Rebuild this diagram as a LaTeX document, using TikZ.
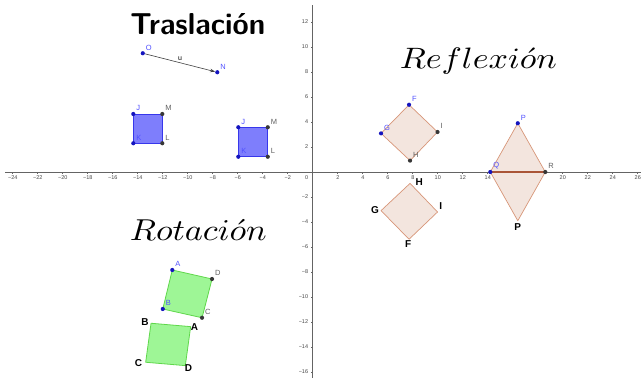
\documentclass[tikz,border=0pt]{standalone}
\usepackage{fontspec}
\newfontfamily\labfont{Liberation Sans}
\usetikzlibrary{calc,arrows.meta}
\definecolor{axisgray}{RGB}{100,100,100}
\definecolor{ticktext}{RGB}{70,70,70}
\definecolor{ptblue}{RGB}{20,20,190}
\definecolor{ptdark}{RGB}{55,55,55}
\definecolor{lblblue}{RGB}{80,80,255}
\definecolor{lblgray}{RGB}{95,95,95}
\definecolor{fillblue}{RGB}{126,126,252}
\definecolor{edgeblue}{RGB}{55,55,235}
\definecolor{fillsal}{RGB}{243,229,222}
\definecolor{edgesal}{RGB}{215,150,120}
\definecolor{segsal}{RGB}{170,85,55}
\definecolor{fillgreen}{RGB}{158,246,150}
\definecolor{edgegreen}{RGB}{95,215,75}
\tikzset{
  axisline/.style={draw=axisgray, line width=0.6pt},
  ticklbl/.style={font=\labfont\fontsize{5.5}{6}\selectfont, text=ticktext, inner sep=0pt},
  ptb/.style={circle, fill=ptblue, inner sep=0pt, minimum size=4.2pt},
  ptd/.style={circle, fill=ptdark, inner sep=0pt, minimum size=4.2pt},
  lblb/.style={font=\labfont\fontsize{7.5}{8}\selectfont, text=lblblue, inner sep=0pt, label distance=1.8pt},
  lbld/.style={font=\labfont\fontsize{7.5}{8}\selectfont, text=lblgray, inner sep=0pt, label distance=1.8pt},
  biglbl/.style={font=\labfont\bfseries\fontsize{10}{10}\selectfont, text=black, inner sep=0pt},
  sqblue/.style={fill=fillblue, draw=edgeblue, line width=0.8pt, line join=round},
  sqsal/.style={fill=fillsal, draw=edgesal, line width=0.7pt, line join=round},
  sqgreen/.style={fill=fillgreen, draw=edgegreen, line width=0.8pt, line join=round},
  vecline/.style={draw=black!75, line width=0.6pt, -{Stealth[length=5pt,width=3.5pt]}},
  title/.style={anchor=base, inner sep=0pt}
}
\begin{document}
\begin{tikzpicture}[x=12.5pt,y=12.5pt]
\useasboundingbox (-25.024,-16.48) rectangle (26.256,13.76);

% axes
\draw[axisline] (-24.62,0) -- (26.256,0);
\draw[axisline] (0,-16.48) -- (0,13.36);
\foreach \x in {2,4,...,24} {
  \draw[axisline] (-\x,0) -- (-\x,-0.16);
  \node[ticklbl] (xn\x) at (-\x,-0.44) {−\x};
}
\foreach \x in {2,4,...,26} {
  \draw[axisline] (\x,0) -- (\x,-0.16);
  \node[ticklbl] (xp\x) at (\x,-0.44) {\x};
}
\foreach \y in {2,4,...,12} {
  \draw[axisline] (0,\y) -- (-0.16,\y);
  \node[ticklbl, anchor=east] (yp\y) at (-0.36,\y) {\y};
}
\foreach \y in {2,4,...,16} {
  \draw[axisline] (0,-\y) -- (-0.16,-\y);
  \node[ticklbl, anchor=east] (yn\y) at (-0.36,-\y) {−\y};
}
\node[ticklbl] (zero) at (-0.49,-0.44) {0};

% titles
\node[title] (tras) at (-9.2,10.96) {\resizebox{135pt}{21pt}{\sffamily\bfseries Traslación}};
\node[title] (refl) at (13.24,8.3) {\resizebox{157pt}{20.5pt}{$Reflexi\acute{o}n$}};
\node[title] (rota) at (-9.16,-5.44) {\resizebox{137pt}{21pt}{$Rotaci\acute{o}n$}};

% ---------- Traslacion ----------
\coordinate (cJ1) at (-14.36,4.64);
\coordinate (cM1) at (-12.04,4.64);
\coordinate (cL1) at (-12.04,2.30);
\coordinate (cK1) at (-14.36,2.30);
\coordinate (cJ2) at (-5.96,3.58);
\coordinate (cM2) at (-3.60,3.58);
\coordinate (cL2) at (-3.60,1.22);
\coordinate (cK2) at (-5.96,1.22);
\draw[sqblue] (cJ1) -- (cM1) -- (cL1) -- (cK1) -- cycle;
\draw[sqblue] (cJ2) -- (cM2) -- (cL2) -- (cK2) -- cycle;
\node[ptb, label={[lblb]45:J}] (J1) at (cJ1) {};
\node[ptd, label={[lbld]45:M}] (M1) at (cM1) {};
\node[ptd, label={[lbld]45:L}] (L1) at (cL1) {};
\node[ptb, label={[lblb]45:K}] (K1) at (cK1) {};
\node[ptb, label={[lblb]45:J}] (J2) at (cJ2) {};
\node[ptd, label={[lbld]45:M}] (M2) at (cM2) {};
\node[ptd, label={[lbld]45:L}] (L2) at (cL2) {};
\node[ptb, label={[lblb]45:K}] (K2) at (cK2) {};

\node[ptb, label={[lblb]45:O}] (O) at (-13.6,9.5) {};
\node[ptb, label={[lblb]45:N}] (N) at (-7.64,7.98) {};
\draw[vecline] (O) -- (N) node[midway, above=2pt, font=\labfont\fontsize{7}{7}\selectfont, inner sep=0pt] (u) {u};

% ---------- Reflexion ----------
\coordinate (cF) at (7.70,5.38);
\coordinate (cG) at (5.46,3.09);
\coordinate (cI) at (9.98,3.20);
\coordinate (cH) at (7.78,0.91);
\coordinate (cF2) at (7.70,-5.38);
\coordinate (cG2) at (5.46,-3.09);
\coordinate (cI2) at (9.98,-3.20);
\coordinate (cH2) at (7.78,-0.91);
\draw[sqsal] (cF) -- (cI) -- (cH) -- (cG) -- cycle;
\draw[sqsal] (cF2) -- (cI2) -- (cH2) -- (cG2) -- cycle;
\coordinate (cP) at (16.40,3.90);
\coordinate (cQ) at (14.20,0);
\coordinate (cR) at (18.60,0);
\coordinate (cP2) at (16.40,-3.90);
\draw[sqsal] (cP) -- (cR) -- (cQ) -- cycle;
\draw[sqsal] (cP2) -- (cR) -- (cQ) -- cycle;
\draw[draw=segsal, line width=1.1pt] (cQ) -- (cR);
\node[ptb, label={[lblb]45:F}] (F) at (cF) {};
\node[ptb, label={[lblb]45:G}] (G) at (cG) {};
\node[ptd, label={[lbld]45:I}] (I) at (cI) {};
\node[ptd, label={[lbld]45:H}] (H) at (cH) {};
\node[ptb, label={[lblb]45:P}] (P) at (cP) {};
\node[ptb, label={[lblb]45:Q}] (Q) at (cQ) {};
\node[ptd, label={[lbld]45:R}] (R) at (cR) {};
\node[biglbl] (lH2) at ($(cH2)+(0.74,0.09)$) {H};
\node[biglbl] (lG2) at ($(cG2)+(-0.48,0.05)$) {G};
\node[biglbl] (lI2) at ($(cI2)+(0.25,0.48)$) {I};
\node[biglbl] (lF2) at ($(cF2)+(-0.06,-0.36)$) {F};
\node[biglbl] (lP2) at ($(cP2)+(0,-0.50)$) {P};

% ---------- Rotacion ----------
\coordinate (cA) at (-11.24,-7.84);
\coordinate (cD) at (-8.06,-8.56);
\coordinate (cC) at (-8.86,-11.66);
\coordinate (cB) at (-12.00,-10.96);
\coordinate (cA2) at (-9.77,-12.37);
\coordinate (cB2) at (-12.94,-12.10);
\coordinate (cC2) at (-13.37,-15.22);
\coordinate (cD2) at (-10.20,-15.49);
\draw[sqgreen] (cA) -- (cD) -- (cC) -- (cB) -- cycle;
\draw[sqgreen] (cB2) -- (cA2) -- (cD2) -- (cC2) -- cycle;
\node[ptb, label={[lblb]45:A}] (A) at (cA) {};
\node[ptd, label={[lbld]45:D}] (D) at (cD) {};
\node[ptd, label={[lbld]45:C}] (C) at (cC) {};
\node[ptb, label={[lblb]45:B}] (B) at (cB) {};
\node[biglbl] (lB2) at ($(cB2)+(-0.48,0.12)$) {B};
\node[biglbl] (lA2) at ($(cA2)+(0.30,0.0)$) {A};
\node[biglbl] (lC2) at ($(cC2)+(-0.58,-0.08)$) {C};
\node[biglbl] (lD2) at ($(cD2)+(0.25,-0.22)$) {D};
\end{tikzpicture}
\end{document}
